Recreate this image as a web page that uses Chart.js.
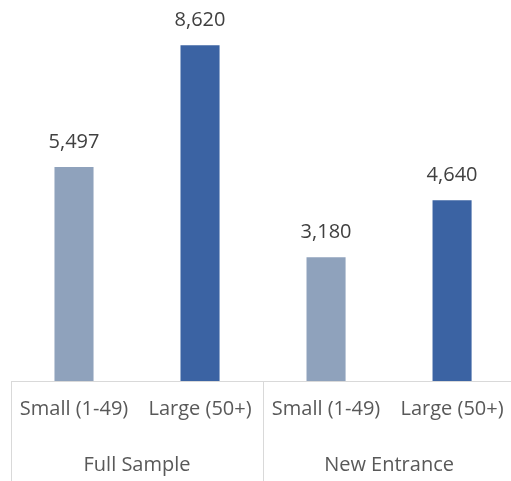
<!DOCTYPE html>
<html>
<head>
<meta charset="utf-8">
<script src="https://cdn.jsdelivr.net/npm/chart.js@4"></script>
<style>
  html, body { margin: 0; padding: 0; background: #fff; overflow: hidden; }
  #wrap { width: 520px; height: 481px; }
</style>
</head>
<body>
<div id="wrap"><canvas id="chart" width="520" height="481"></canvas></div>
<script>
const categories = ['Small (1-49)', 'Large (50+)', 'Small (1-49)', 'Large (50+)'];
const groups = ['Full Sample', 'New Entrance'];
const values = [5497, 8620, 3180, 4640];
const barColors = ['#8fa2bc', '#3b63a3', '#8fa2bc', '#3b63a3'];

const fontFamily = '"Open Sans", "Noto Sans", sans-serif';

// value labels, baseline, separators and group names
const extras = {
  id: 'extras',
  afterDatasetsDraw(chart) {
    const ctx = chart.ctx;
    const meta = chart.getDatasetMeta(0);
    ctx.save();
    ctx.font = '20px ' + fontFamily;
    ctx.fillStyle = '#404040';
    ctx.textAlign = 'center';
    ctx.textBaseline = 'middle';
    meta.data.forEach((bar, i) => {
      ctx.fillText(values[i].toLocaleString('en-US'), bar.x, bar.y - 25);
    });

    const x = chart.scales.x;
    const area = chart.chartArea;
    const centers = categories.map((c, i) => x.getPixelForValue(i));
    const step = centers[1] - centers[0];
    const bounds = [centers[0] - step / 2, (centers[1] + centers[2]) / 2, centers[3] + step / 2];

    ctx.strokeStyle = '#d9d9d9';
    ctx.lineWidth = 1;
    ctx.beginPath();
    ctx.moveTo(bounds[0], area.bottom + 0.5);
    ctx.lineTo(bounds[2], area.bottom + 0.5);
    bounds.forEach(b => {
      const bx = Math.round(b) + 0.5;
      ctx.moveTo(bx, area.bottom);
      ctx.lineTo(bx, chart.height);
    });
    ctx.stroke();

    ctx.fillStyle = '#595959';
    groups.forEach((g, i) => {
      ctx.fillText(g, (bounds[i] + bounds[i + 1]) / 2, area.bottom + 84);
    });
    ctx.restore();
  }
};

new Chart(document.getElementById('chart'), {
  type: 'bar',
  data: {
    labels: categories,
    datasets: [{
      data: values,
      backgroundColor: barColors,
      categoryPercentage: 1,
      barPercentage: 0.31
    }]
  },
  options: {
    responsive: false,
    animation: false,
    layout: { padding: { left: 11, right: 3, top: 11, bottom: 44 } },
    plugins: {
      legend: { display: false },
      tooltip: { enabled: false }
    },
    scales: {
      x: {
        grid: { display: false, drawTicks: false },
        border: { display: false },
        ticks: {
          color: '#595959',
          padding: 16,
          maxRotation: 0,
          autoSkip: false,
          font: { family: fontFamily, size: 20 }
        }
      },
      y: {
        display: false,
        min: 0,
        max: 9500
      }
    }
  },
  plugins: [extras]
});
</script>
</body>
</html>
